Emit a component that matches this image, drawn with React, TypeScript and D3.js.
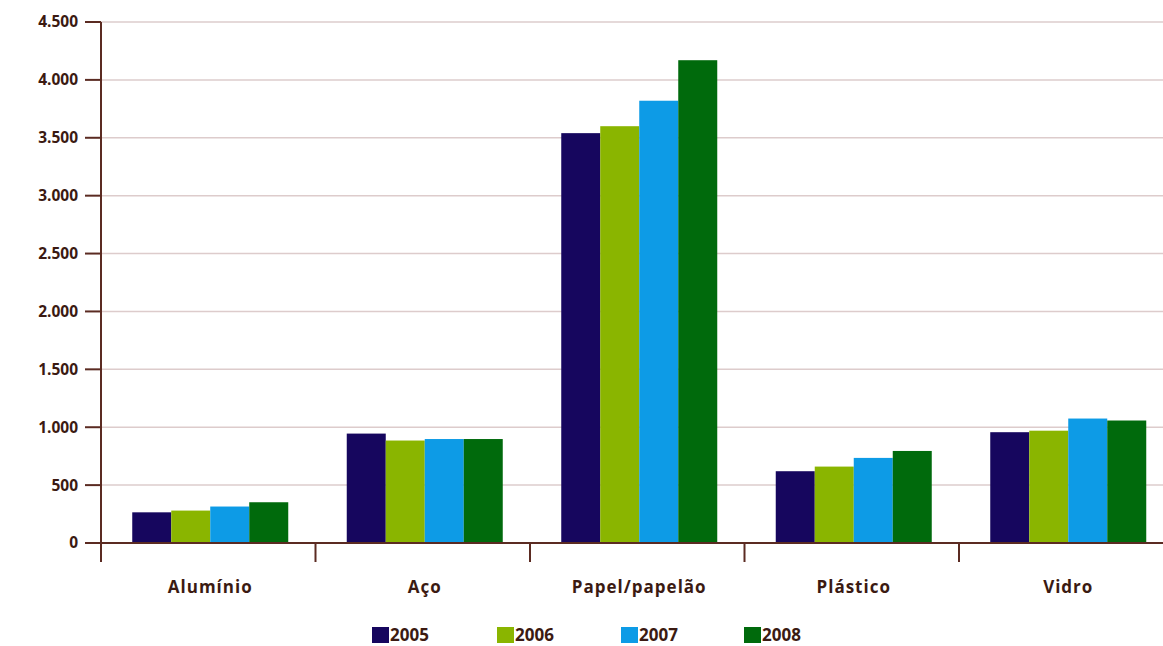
import React from "react";
import * as d3 from "d3";

const categories = ["Alumínio", "Aço", "Papel/papelão", "Plástico", "Vidro"];
const years = ["2005", "2006", "2007", "2008"];
const v2005 = [265, 945, 3540, 620, 957];
const v2006 = [280, 885, 3600, 660, 970];
const v2007 = [315, 898, 3820, 735, 1075];
const v2008 = [352, 898, 4170, 795, 1058];
const yTicks = [0, 500, 1000, 1500, 2000, 2500, 3000, 3500, 4000, 4500];
const colors = ["#16065e", "#8ab500", "#0d9be6", "#006a0c"];

const series = [v2005, v2006, v2007, v2008];

export default function App() {
  const W = 1163, H = 646;
  const x0 = 101, yZero = 543, yTop = 22;
  const band = 214.5;
  const x = d3.scaleBand<string>().domain(categories).range([x0, x0 + band * 5]).paddingInner(0).paddingOuter(0);
  const xs = d3.scaleBand<string>().domain(years).range([0, 156]).padding(0);
  const y = d3.scaleLinear().domain([0, 4500]).range([yZero, yTop]);
  const fmt = (v: number) => d3.format(",")(v).replace(/,/g, ".");
  const axisColor = "#5b2b22";
  const textColor = "#3b1a12";
  const font = "'Open Sans', 'Noto Sans', sans-serif";
  const legendX = [372, 497, 621, 744];

  return (
    <svg width={W} height={H} style={{ position: "absolute", left: 0, top: 0, background: "#fff" }}>
      {yTicks.map((t) => (
        <g key={t}>
          {t > 0 && <line x1={x0} x2={W} y1={y(t)} y2={y(t)} stroke="#ddcccc" strokeWidth={1.5} />}
          <line x1={85} x2={x0} y1={y(t)} y2={y(t)} stroke={axisColor} strokeWidth={2} />
          <text x={78} y={y(t)} dy="0.35em" textAnchor="end" fontFamily={font} fontWeight={700} fontSize={15.5} fill={textColor}>
            {fmt(t)}
          </text>
        </g>
      ))}
      {categories.map((c, ci) => (
        <g key={c}>
          {series.map((s, si) => {
            const bx = (x(c) as number) + (x.bandwidth() - 156) / 2 + 2 + (xs(years[si]) as number);
            return (
              <rect key={si} x={bx} y={y(s[ci])} width={xs.bandwidth()} height={yZero - y(s[ci])} fill={colors[si]} />
            );
          })}
          <text x={(x(c) as number) + x.bandwidth() / 2 + 2} y={593} textAnchor="middle" fontFamily={font} fontWeight={700} fontSize={17} letterSpacing={1} fill={textColor}>
            {c}
          </text>
          {ci > 0 && <line x1={x(c)} x2={x(c)} y1={yZero} y2={562} stroke={axisColor} strokeWidth={2} />}
        </g>
      ))}
      <line x1={x0} x2={x0} y1={yTop} y2={562} stroke={axisColor} strokeWidth={2} />
      <line x1={85} x2={W} y1={yZero} y2={yZero} stroke={axisColor} strokeWidth={2} />
      {years.map((yr, i) => (
        <g key={yr}>
          <rect x={legendX[i]} y={627} width={17} height={16} fill={colors[i]} />
          <text x={legendX[i] + 18} y={641} fontFamily={font} fontWeight={700} fontSize={17} fill={textColor}>
            {yr}
          </text>
        </g>
      ))}
    </svg>
  );
}
